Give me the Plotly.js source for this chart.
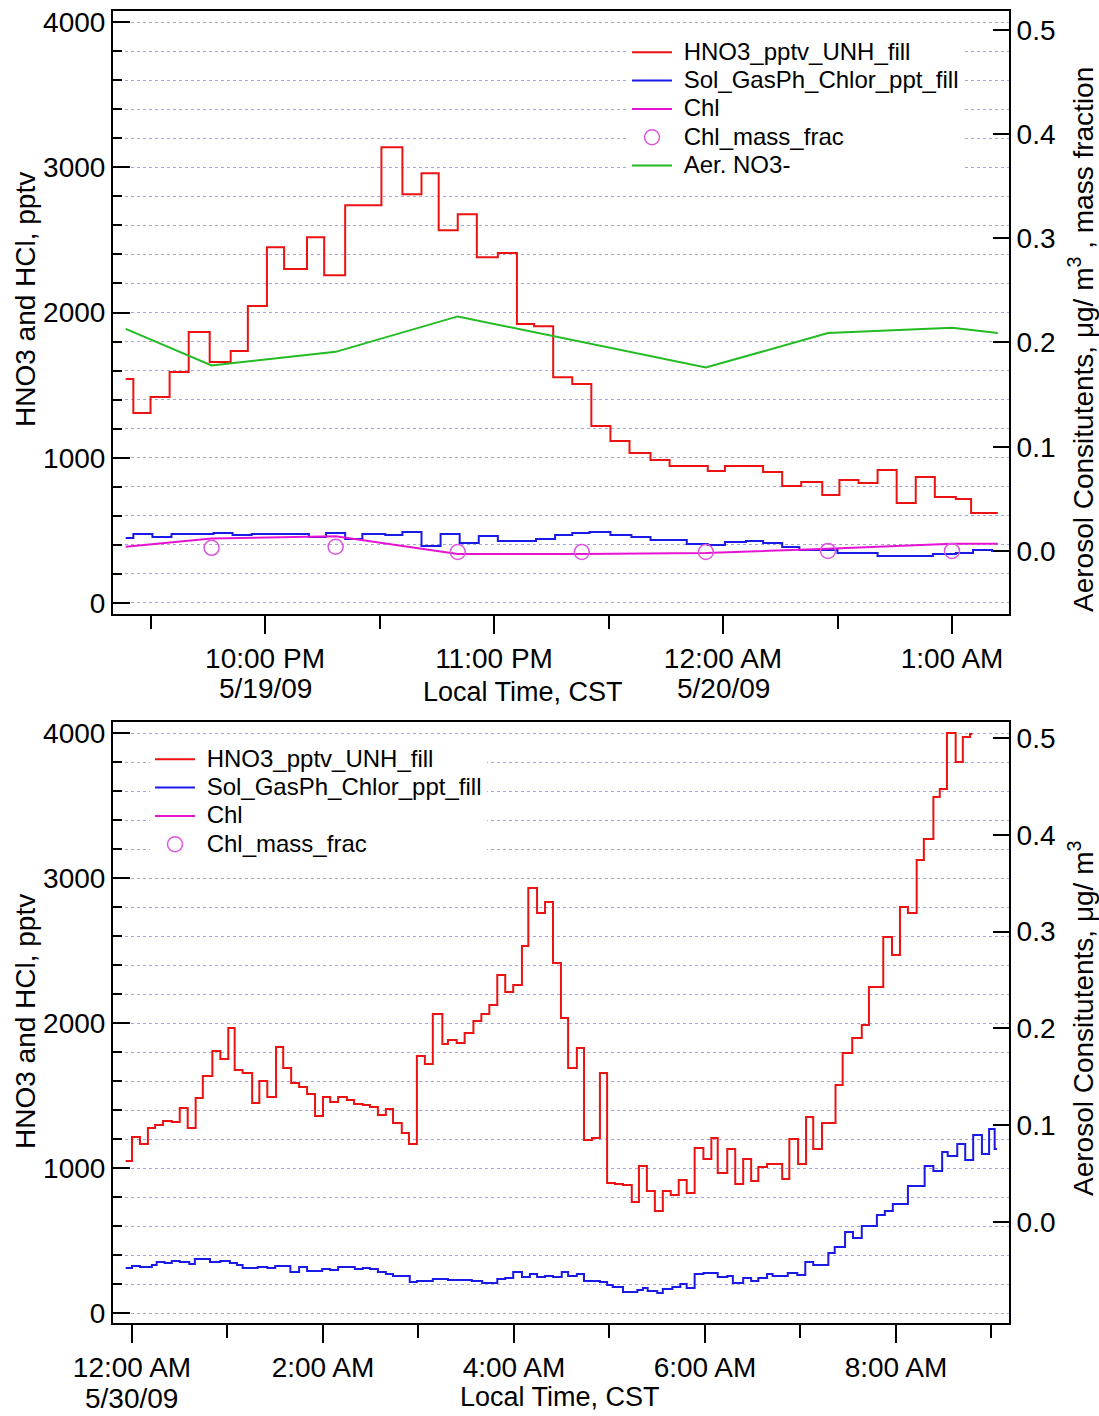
<!DOCTYPE html>
<html>
<head>
<meta charset="utf-8">
<script src="https://cdn.plot.ly/plotly-3.0.1.min.js"></script>
<style>
  html, body { margin: 0; padding: 0; background: #ffffff; }
  #chart { width: 1099px; height: 1416px; }
</style>
</head>
<body>
<div id="chart"></div>
<script>
// ---------------- DATA ----------------
// Top panel: times in minutes after 10:00 PM, 5/19/09 (CST)
const topRedMin = [-36.5, -34.5, -30, -25, -20, -14.5, -9, -4.5, 0.5, 5, 11, 15.5, 21, 30.5, 36, 41, 45.5, 50.5, 55.5, 61, 66, 70.5, 75.5, 80.5, 85.5, 90.5, 95.5, 101, 106, 116, 120.5, 130.5, 135.5, 140.5, 146, 150.5, 155.5, 160.5, 165.5, 170.5, 175.5, 181, 185, 192];
const topRedHNO3 = [1542, 1308, 1418, 1590, 1865, 1659, 1735, 2044, 2450, 2299, 2519, 2257, 2739, 3138, 2815, 2959, 2567, 2677, 2381, 2409, 1920, 1906, 1555, 1507, 1218, 1115, 1032, 984, 943, 908, 943, 901, 805, 833, 743, 846, 826, 915, 688, 867, 730, 716, 619, 619];

const topBlueMin = [-36.5, -34.5, -29.5, -24.5, -13.5, -8.5, -3.5, 11.5, 16, 21, 25.5, 31.5, 36, 41, 46, 51, 56, 61, 71, 76, 80.5, 85, 90.5, 96, 101, 110.5, 116, 120.5, 126, 130.5, 135.5, 140, 150, 160.5, 175, 181, 185.5, 190.5, 192];
const topBlueHCl = [447, 475, 454, 475, 482, 468, 475, 454, 482, 440, 475, 468, 489, 392, 475, 413, 461, 427, 440, 468, 482, 489, 468, 454, 434, 406, 399, 420, 427, 413, 385, 365, 344, 323, 337, 344, 365, 358, 358];

const topChlMin = [-36.5, -14, 18.5, 50.5, 83, 115.5, 147.5, 180, 192];
const topChl = [0.004, 0.012, 0.014, -0.003, -0.003, -0.002, 0.002, 0.007, 0.007];
const topSampleMin = [-14, 18.5, 50.5, 83, 115.5, 147.5, 180];
const topChlMassFrac = [0.003, 0.004, -0.001, -0.001, -0.001, 0.0, 0.0];
const topNO3Min = [-36.5, -14, 18.5, 50.5, 115.5, 147.5, 180, 192];
const topAerNO3 = [0.213, 0.178, 0.191, 0.225, 0.176, 0.209, 0.214, 0.209];

// Bottom panel: times in minutes after 12:00 AM, 5/30/09 (CST)
const botRedMin = [-4, 0, 5, 10, 14.5, 19.5, 25, 30, 35, 40, 44.5, 50.5, 55.5, 60.5, 64.5, 69.5, 75.5, 80, 85, 90.5, 95, 100, 105, 110, 115, 120, 124.5, 129.5, 135, 139.5, 145, 149.5, 154.5, 159.5, 164, 169.5, 174, 179, 184, 189, 195, 198.5, 204, 209, 214.5, 219.5, 224.5, 229.5, 234.5, 239.5, 245, 249, 254.5, 259.5, 264.5, 269.5, 274, 279.5, 284, 289, 294, 298.5, 303.5, 308.5, 314, 318.5, 323.5, 328.5, 333.5, 338.5, 343.5, 348.5, 353.5, 359, 364, 368, 374, 379, 384, 389, 393.5, 399, 408.5, 413, 418.5, 423.5, 428, 433.5, 442, 446.5, 452.5, 458.5, 463, 472, 477.5, 482.5, 487.5, 493, 497.5, 503.5, 507.5, 512, 517.5, 522, 526.5, 528];
const botRedHNO3 = [1048, 1214, 1166, 1276, 1297, 1324, 1317, 1414, 1276, 1483, 1634, 1807, 1752, 1966, 1676, 1655, 1448, 1600, 1490, 1834, 1690, 1586, 1559, 1510, 1359, 1490, 1455, 1490, 1469, 1441, 1434, 1421, 1366, 1407, 1310, 1241, 1166, 1772, 1717, 2062, 1855, 1883, 1862, 1931, 2014, 2062, 2124, 2331, 2214, 2262, 2531, 2931, 2759, 2834, 2414, 2034, 1690, 1828, 1193, 1207, 1655, 897, 890, 883, 766, 1014, 841, 703, 841, 814, 917, 828, 1138, 1062, 1207, 966, 1131, 890, 1062, 910, 1007, 1028, 924, 1200, 1028, 1352, 1131, 1310, 1572, 1793, 1897, 1986, 2248, 2593, 2469, 2800, 2759, 3124, 3269, 3559, 3614, 4000, 3800, 3972, 3993, 3993];

const botBlueMin = [-4, 0, 5, 12.5, 15.5, 20.5, 25, 30, 36, 39.5, 49, 55.5, 61.5, 66, 69.5, 79, 85, 90, 99.5, 105, 110, 119.5, 124.5, 129.5, 140, 145, 149.5, 154.5, 159.5, 164, 174.5, 179, 189, 198.5, 213.5, 220, 229.5, 234.5, 239.5, 245, 250, 254.5, 259.5, 264.5, 270, 274, 279.5, 284, 294, 298.5, 302, 308.5, 317.5, 321, 324, 330, 333.5, 339.5, 344.5, 348.5, 353.5, 359, 368, 374, 377.5, 384, 389, 393.5, 399, 402.5, 412, 418, 423, 428, 437.5, 441.5, 448, 453, 458.5, 468, 473, 478, 487.5, 498, 503.5, 509, 512.5, 518.5, 523.5, 528.5, 534, 538.5, 542, 543.5];
const botBlueHCl = [310, 324, 317, 331, 352, 345, 359, 352, 338, 372, 352, 359, 345, 331, 310, 317, 310, 324, 283, 317, 290, 303, 296, 317, 303, 310, 303, 283, 269, 255, 214, 221, 234, 228, 221, 207, 234, 241, 283, 248, 269, 248, 255, 248, 283, 255, 269, 221, 214, 193, 179, 145, 159, 172, 152, 138, 165, 179, 200, 172, 269, 276, 248, 255, 207, 241, 221, 241, 269, 255, 276, 262, 352, 331, 414, 455, 559, 517, 600, 676, 703, 752, 876, 1014, 979, 1110, 1083, 1166, 1055, 1228, 1097, 1269, 1131, 1131];
// The lower panel lists Chl and Chl_mass_frac in its legend but shows no values for them
const botChlMin = [0];
const botChl = [null];
const botChlMassFrac = [null];

// Tick labels
const topTickTimes = ['2009-05-19 22:00', '2009-05-19 23:00', '2009-05-20 00:00', '2009-05-20 01:00'];
const topTickText = ['10:00 PM', '11:00 PM', '12:00 AM', '1:00 AM'];
const topMinorTimes = ['2009-05-19 21:30', '2009-05-19 22:30', '2009-05-19 23:30', '2009-05-20 00:30'];
const topDateTimes = ['2009-05-19 22:00', '2009-05-20 00:00'];
const topDateText = ['5/19/09', '5/20/09'];
const botTickTimes = ['2009-05-30 00:00', '2009-05-30 02:00', '2009-05-30 04:00', '2009-05-30 06:00', '2009-05-30 08:00'];
const botTickText = ['12:00 AM', '2:00 AM', '4:00 AM', '6:00 AM', '8:00 AM'];
const botMinorTimes = ['2009-05-30 01:00', '2009-05-30 03:00', '2009-05-30 05:00', '2009-05-30 07:00', '2009-05-30 09:00'];
const botDateTimes = ['2009-05-30 00:00'];
const botDateText = ['5/30/09'];
const rightTicks = [0, 0.1, 0.2, 0.3, 0.4, 0.5];

// ---------------- helpers ----------------
function stamp(baseY, baseM, baseD, baseH, mins) {
  return mins.map(function (m) {
    const ms = Date.UTC(baseY, baseM - 1, baseD, baseH, 0, 0) + m * 60000;
    return new Date(ms).toISOString().slice(0, 19).replace('T', ' ');
  });
}
const topT = function (m) { return stamp(2009, 5, 19, 22, m); };
const botT = function (m) { return stamp(2009, 5, 30, 0, m); };

const FONT = 'Liberation Sans, Arial, Helvetica, sans-serif';
const RED = '#ec1212', BLUE = '#1a1ae6', MAG = '#e614d2', GREEN = '#22bb22', CIRC = '#dd55dd';
const GRID = '#a4a4d8';
const W = 1099, H = 1416;
const px = function (x) { return x / W; };
const py = function (y) { return 1 - y / H; };
const big = function (s) { return '<span style="font-size:24px">\u00a0' + s + '</span>'; };

// ---------------- traces ----------------
const traces = [
  { x: topT(topRedMin), y: topRedHNO3, xaxis: 'x', yaxis: 'y', type: 'scatter', mode: 'lines',
    line: { color: RED, width: 2, shape: 'hv' }, name: big('HNO3_pptv_UNH_fill'), legend: 'legend' },
  { x: topT(topBlueMin), y: topBlueHCl, xaxis: 'x', yaxis: 'y', type: 'scatter', mode: 'lines',
    line: { color: BLUE, width: 2, shape: 'hv' }, name: big('Sol_GasPh_Chlor_ppt_fill'), legend: 'legend' },
  { x: topT(topChlMin), y: topChl, xaxis: 'x', yaxis: 'y2', type: 'scatter', mode: 'lines',
    line: { color: MAG, width: 2 }, name: big('Chl'), legend: 'legend' },
  { x: topT(topSampleMin), y: topChlMassFrac, xaxis: 'x', yaxis: 'y2', type: 'scatter', mode: 'markers',
    marker: { symbol: 'circle-open', size: 15, color: CIRC, line: { width: 1.5, color: CIRC } },
    name: big('Chl_mass_frac'), legend: 'legend' },
  { x: topT(topNO3Min), y: topAerNO3, xaxis: 'x', yaxis: 'y2', type: 'scatter', mode: 'lines',
    line: { color: GREEN, width: 2 }, name: big('Aer. NO3-'), legend: 'legend' },

  { x: botT(botRedMin), y: botRedHNO3, xaxis: 'x2', yaxis: 'y3', type: 'scatter', mode: 'lines',
    line: { color: RED, width: 2, shape: 'hv' }, name: big('HNO3_pptv_UNH_fill'), legend: 'legend2' },
  { x: botT(botBlueMin), y: botBlueHCl, xaxis: 'x2', yaxis: 'y3', type: 'scatter', mode: 'lines',
    line: { color: BLUE, width: 2, shape: 'hv' }, name: big('Sol_GasPh_Chlor_ppt_fill'), legend: 'legend2' },
  { x: botT(botChlMin), y: botChl, xaxis: 'x2', yaxis: 'y4', type: 'scatter', mode: 'lines',
    line: { color: MAG, width: 2 }, name: big('Chl'), legend: 'legend2' },
  { x: botT(botChlMin), y: botChlMassFrac, xaxis: 'x2', yaxis: 'y4', type: 'scatter', mode: 'markers',
    marker: { symbol: 'circle-open', size: 15, color: CIRC, line: { width: 1.5, color: CIRC } },
    name: big('Chl_mass_frac'), legend: 'legend2' }
];

// ---------------- layout ----------------
const tickFont = { family: FONT, size: 28, color: '#000' };
function leftAxis(domain, range) {
  return {
    domain: domain, range: range, autorange: false,
    tickmode: 'linear', tick0: 0, dtick: 1000,
    ticks: 'inside', ticklen: 17, tickwidth: 2, tickcolor: '#000',
    showline: true, linecolor: '#000', linewidth: 2,
    showgrid: true, gridcolor: GRID, gridwidth: 1, griddash: 'dot',
    minor: { dtick: 200, tick0: 0, ticks: 'inside', ticklen: 9, tickwidth: 2, tickcolor: '#000',
             showgrid: true, gridcolor: GRID, gridwidth: 1, griddash: 'dot' },
    zeroline: false, tickfont: tickFont, automargin: false, fixedrange: true
  };
}
function rightAxis(overlay, anchor, range) {
  return {
    overlaying: overlay, anchor: anchor, side: 'right', range: range, autorange: false,
    tickmode: 'array', tickvals: rightTicks, tickformat: '.1f',
    ticks: 'inside', ticklen: 16, tickwidth: 2, tickcolor: '#000',
    showline: true, linecolor: '#000', linewidth: 2,
    showgrid: false, zeroline: false, tickfont: tickFont, automargin: false, fixedrange: true
  };
}
function timeAxis(domain, anchor, range, vals, text, minorVals) {
  return {
    type: 'date', domain: domain, anchor: anchor, range: range, autorange: false,
    tickmode: 'array', tickvals: vals, ticktext: text,
    ticks: 'outside', ticklen: 18, tickwidth: 2, tickcolor: '#000',
    minor: { tickmode: 'array', tickvals: minorVals, ticks: 'outside', ticklen: 13, tickwidth: 2, tickcolor: '#000', showgrid: false },
    showline: true, mirror: true, linecolor: '#000', linewidth: 2,
    showgrid: false, zeroline: false, tickfont: tickFont, automargin: false, fixedrange: true
  };
}

const xDom = [px(113), px(1009)];
const topDom = [py(614), py(11)];
const botDom = [py(1323), py(722)];

const legendCommon = {
  bgcolor: '#ffffff', borderwidth: 0, font: { family: FONT, size: 19.5, color: '#000' },
  xanchor: 'left', yanchor: 'top', itemwidth: 40, tracegroupgap: 0
};

const titleFont = { family: FONT, size: 28, color: '#000' };
const rightTitleFont = { family: FONT, size: 28, color: '#000' };
const annotations = [
  { text: 'HNO3 and HCl, pptv', xref: 'paper', yref: 'paper', x: px(25), y: py(300), textangle: -90,
    showarrow: false, xanchor: 'center', yanchor: 'middle', font: titleFont },
  { text: 'Aerosol Consitutents, μg/ m<sup>3</sup> , mass fraction', xref: 'paper', yref: 'paper', x: px(1081), y: py(340),
    textangle: -90, showarrow: false, xanchor: 'center', yanchor: 'middle', font: rightTitleFont },
  { text: 'Local Time, CST', xref: 'paper', yref: 'paper', x: px(523), y: py(692),
    showarrow: false, xanchor: 'center', yanchor: 'middle', font: { family: FONT, size: 27, color: '#000' } },
  { text: 'HNO3 and HCl, pptv', xref: 'paper', yref: 'paper', x: px(25), y: py(1022), textangle: -90,
    showarrow: false, xanchor: 'center', yanchor: 'middle', font: titleFont },
  { text: 'Aerosol Consitutents, μg/ m<sup>3</sup>', xref: 'paper', yref: 'paper', x: px(1081), y: py(1018),
    textangle: -90, showarrow: false, xanchor: 'center', yanchor: 'middle', font: rightTitleFont },
  { text: 'Local Time, CST', xref: 'paper', yref: 'paper', x: px(560), y: py(1397),
    showarrow: false, xanchor: 'center', yanchor: 'middle', font: { family: FONT, size: 27, color: '#000' } }
];
// second line of the date-bearing tick labels
topDateTimes.forEach(function (t, i) {
  annotations.push({ text: topDateText[i], xref: 'x', yref: 'paper', x: t, y: py(688),
    showarrow: false, xanchor: 'center', yanchor: 'middle', font: tickFont });
});
botDateTimes.forEach(function (t, i) {
  annotations.push({ text: botDateText[i], xref: 'x2', yref: 'paper', x: t, y: py(1398),
    showarrow: false, xanchor: 'center', yanchor: 'middle', font: tickFont });
});

const layout = {
  width: W, height: H,
  margin: { l: 0, r: 0, t: 0, b: 0 },
  paper_bgcolor: '#ffffff', plot_bgcolor: '#ffffff',
  font: { family: FONT, color: '#000' },
  showlegend: true,
  xaxis: timeAxis(xDom, 'y', ['2009-05-19 21:20:10', '2009-05-20 01:14:56'], topTickTimes, topTickText, topMinorTimes),
  yaxis: leftAxis(topDom, [-76, 4076]),
  yaxis2: rightAxis('y', 'x', [-0.0605, 0.518]),
  xaxis2: timeAxis(xDom, 'y3', ['2009-05-29 23:48:04', '2009-05-30 09:11:00'], botTickTimes, botTickText, botMinorTimes),
  yaxis3: leftAxis(botDom, [-69, 4076]),
  yaxis4: rightAxis('y3', 'x2', [-0.1043, 0.5165]),
  legend: Object.assign({}, legendCommon, { x: px(627), y: py(33) }),
  legend2: Object.assign({}, legendCommon, { x: px(150), y: py(740) }),
  annotations: annotations
};

Plotly.newPlot('chart', traces, layout, { staticPlot: true, displayModeBar: false });
</script>
</body>
</html>
